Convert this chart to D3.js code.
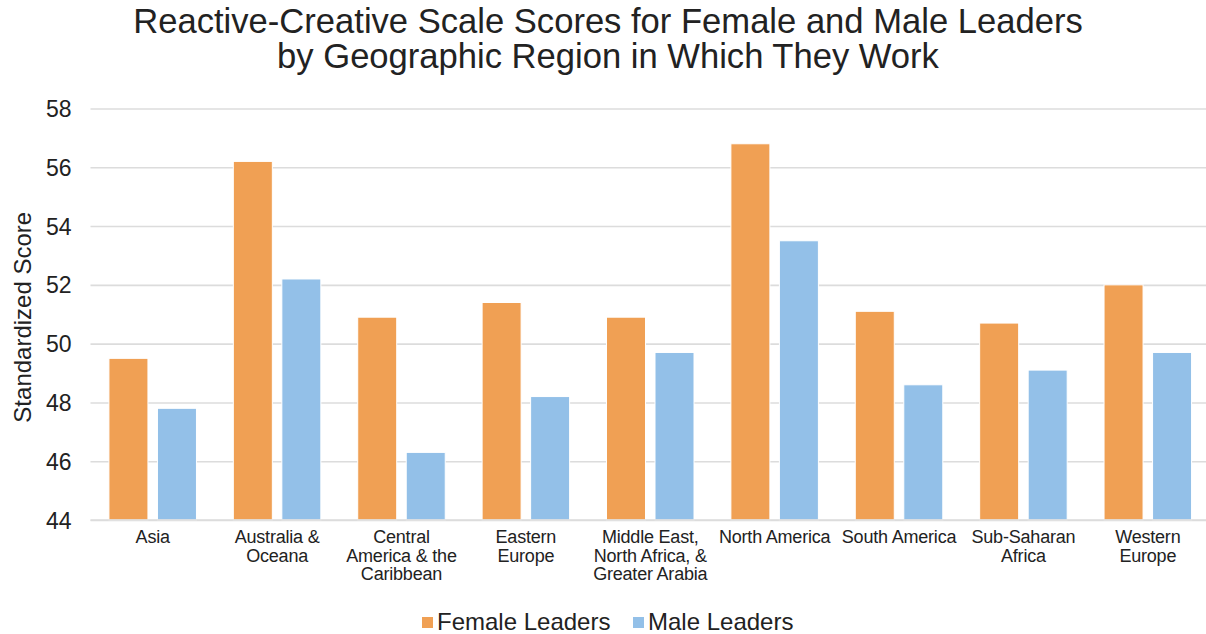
<!DOCTYPE html>
<html>
<head>
<meta charset="utf-8">
<script src="https://cdn.jsdelivr.net/npm/d3@7"></script>
<style>
  html, body { margin: 0; padding: 0; background: #fff; overflow: hidden; }
  svg { display: block; font-family: "Liberation Sans", Arial, Helvetica, sans-serif; }
</style>
</head>
<body>
<svg id="chart" width="1206" height="634"></svg>
<script>
// ---- data ----
const categories = [
  "Asia",
  "Australia &\nOceana",
  "Central\nAmerica & the\nCaribbean",
  "Eastern\nEurope",
  "Middle East,\nNorth Africa, &\nGreater Arabia",
  "North America",
  "South America",
  "Sub-Saharan\nAfrica",
  "Western\nEurope"
];
const seriesNames = ["Female Leaders", "Male Leaders"];
const femaleValues = [49.5, 56.2, 50.9, 51.4, 50.9, 56.8, 51.1, 50.7, 52.0];
const maleValues   = [47.8, 52.2, 46.3, 48.2, 49.7, 53.5, 48.6, 49.1, 49.7];
const yTicks = [44, 46, 48, 50, 52, 54, 56, 58];
const titleLines = [
  "Reactive-Creative Scale Scores for Female and Male Leaders",
  "by Geographic Region in Which They Work"
];
const yAxisTitle = "Standardized Score";
const colors = ["#F0A054", "#93C0E8"];

// ---- layout ----
const svg = d3.select("#chart");
const plotLeft = 90.5, plotRight = 1210, plotTop = 108.5, plotBottom = 520;

const x = d3.scaleBand().domain(categories).range([plotLeft, plotRight]).paddingInner(0).paddingOuter(0);
const xs = d3.scaleBand().domain(seriesNames).range([0, x.bandwidth()])
  .paddingInner(0.196).paddingOuter(0.38);
const y = d3.scaleLinear().domain([44, 58]).range([plotBottom, plotTop]);
const color = d3.scaleOrdinal().domain(seriesNames).range(colors);

// gridlines
const yAxis = d3.axisLeft(y).tickValues(yTicks).tickSize(-(1206 - plotLeft)).tickPadding(18).tickFormat(d3.format("d"));
const gy = svg.append("g").attr("transform", `translate(${plotLeft},0)`).call(yAxis);
gy.select(".domain").remove();
gy.selectAll(".tick line").attr("stroke", "#dcdcdc").attr("stroke-width", 1.6);
gy.selectAll(".tick text").attr("font-size", 23).attr("fill", "#222")
  .attr("x", -19).attr("dy", "0.35em");

// bars
const rows = categories.map((c, i) => ({ cat: c, vals: [femaleValues[i], maleValues[i]] }));
const groups = svg.append("g").selectAll("g").data(rows).join("g")
  .attr("transform", d => `translate(${x(d.cat)},0)`);
groups.selectAll("rect").data(d => d.vals.map((v, j) => ({ s: seriesNames[j], v })))
  .join("rect")
  .attr("x", d => xs(d.s))
  .attr("width", xs.bandwidth())
  .attr("y", d => y(d.v))
  .attr("height", d => y(44) - y(d.v))
  .attr("fill", d => color(d.s))
  .attr("stroke", "#fff")
  .attr("stroke-width", 1);

// baseline
svg.append("line").attr("x1", plotLeft).attr("x2", 1206).attr("y1", y(44)).attr("y2", y(44))
  .attr("stroke", "#dcdcdc").attr("stroke-width", 1.6);

// x axis labels
const xAxis = d3.axisBottom(x).tickSize(0).tickFormat("");
const gx = svg.append("g").attr("transform", `translate(0,${plotBottom})`).call(xAxis);
gx.select(".domain").remove();
gx.selectAll(".tick").each(function(d) {
  const t = d3.select(this).append("text")
    .attr("fill", "#222").attr("font-size", 18).attr("text-anchor", "middle")
    .attr("letter-spacing", "-0.2");
  d.split("\n").forEach((line, i) => {
    t.append("tspan").attr("x", 0).attr("y", 23 + i * 18.7).text(line);
  });
});

// title
const title = svg.append("text").attr("text-anchor", "middle").attr("fill", "#222").attr("font-size", 34.6);
titleLines.forEach((l, i) => title.append("tspan").attr("x", 608).attr("y", 33 + i * 35).text(l));

// y axis title
svg.append("text")
  .attr("transform", `translate(31,${(plotTop + plotBottom) / 2 + 3}) rotate(-90)`)
  .attr("text-anchor", "middle").attr("fill", "#222").attr("font-size", 24)
  .text(yAxisTitle);

// legend
const legendX = [422, 633];
const lg = svg.append("g").selectAll("g").data(seriesNames).join("g")
  .attr("transform", (d, i) => `translate(${legendX[i]},617)`);
lg.append("rect").attr("width", 11).attr("height", 11).attr("fill", d => color(d));
lg.append("text").attr("x", 15).attr("y", 13).attr("font-size", 24).attr("fill", "#222").text(d => d);
</script>
</body>
</html>
